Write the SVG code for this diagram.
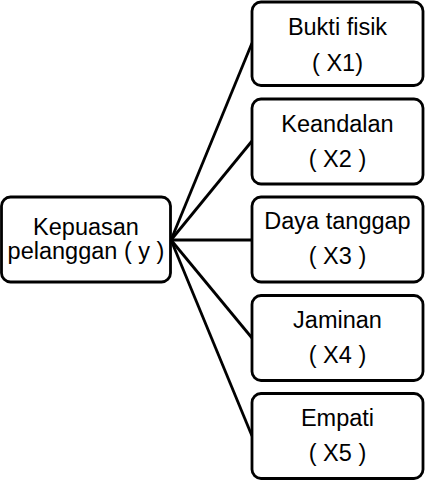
<svg xmlns="http://www.w3.org/2000/svg" width="427" height="481" viewBox="0 0 427 481">
<style>
.box{fill:#fff;stroke:#000;stroke-width:2.8}
.t{font-family:"Liberation Sans",Arial,sans-serif;font-size:23.5px;fill:#000;text-anchor:middle}
.c{stroke:#000;stroke-width:2.8;fill:none}
</style>
<rect width="427" height="481" fill="#fff"/>
<g id="connectors">
<line class="c" x1="171" y1="240" x2="252" y2="43"/>
<line class="c" x1="171" y1="240" x2="252" y2="141"/>
<line class="c" x1="171" y1="240" x2="252" y2="240"/>
<line class="c" x1="171" y1="240" x2="252" y2="338"/>
<line class="c" x1="171" y1="240" x2="252" y2="436"/>
</g>
<g id="y">
<rect class="box" x="1.5" y="197" width="169" height="85" rx="9"/>
<text class="t" x="86" y="235">Kepuasan</text>
<text class="t" x="86" y="259">pelanggan ( y )</text>
</g>
<g id="x1">
<rect class="box" x="252" y="2" width="171" height="83.5" rx="9"/>
<text class="t" x="337.5" y="35">Bukti fisik</text>
<text class="t" x="337.5" y="71">( X1)</text>
</g>
<g id="x2">
<rect class="box" x="252" y="99" width="171" height="85" rx="9"/>
<text class="t" x="337.5" y="132">Keandalan</text>
<text class="t" x="337.5" y="167">( X2 )</text>
</g>
<g id="x3">
<rect class="box" x="252" y="197" width="171" height="85" rx="9"/>
<text class="t" x="337.5" y="229">Daya tanggap</text>
<text class="t" x="337.5" y="264">( X3 )</text>
</g>
<g id="x4">
<rect class="box" x="252" y="295.5" width="171" height="85" rx="9"/>
<text class="t" x="337.5" y="328">Jaminan</text>
<text class="t" x="337.5" y="363">( X4 )</text>
</g>
<g id="x5">
<rect class="box" x="252" y="393.5" width="171" height="85" rx="9"/>
<text class="t" x="337.5" y="426">Empati</text>
<text class="t" x="337.5" y="461">( X5 )</text>
</g>
</svg>
